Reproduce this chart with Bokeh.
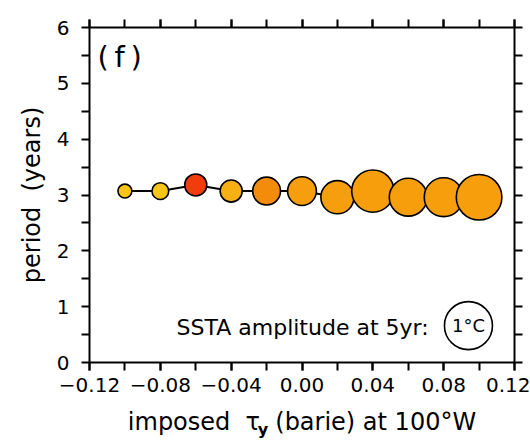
from bokeh.plotting import figure
from bokeh.models import (Range1d, LinearAxis, FixedTicker, CustomJSTickFormatter,
                          Label, ColumnDataSource)
from bokeh.embed import file_html
from bokeh.resources import INLINE

# ---------------- data ----------------
tau_y = [-0.10, -0.08, -0.06, -0.04, -0.02, 0.00, 0.02, 0.04, 0.06, 0.08, 0.10]
period = [3.07, 3.07, 3.18, 3.07, 3.07, 3.07, 2.96, 3.07, 2.96, 2.96, 2.96]
amplitude = [0.29, 0.35, 0.46, 0.46, 0.58, 0.60, 0.69, 0.88, 0.79, 0.81, 0.95]
colors = ["#F6C516", "#F6C516", "#F23C0C", "#F6B013", "#F38C0B", "#F69E0E",
          "#F69E0E", "#F69E0B", "#F69E0B", "#F69E0B", "#F69E0B"]
x_major = [-0.12, -0.08, -0.04, 0.00, 0.04, 0.08, 0.12]
x_minor = [-0.12, -0.10, -0.08, -0.06, -0.04, -0.02, 0.00, 0.02, 0.04, 0.06, 0.08, 0.10, 0.12]
y_major = [0, 1, 2, 3, 4, 5, 6]
y_minor = [0.5, 1.5, 2.5, 3.5, 4.5, 5.5]
legend_amp = 1.0
legend_label = "1°C"
legend_text = "SSTA amplitude at 5yr:"
panel_label = "(\u2009f\u2009)"
y_title = "period\u00a0\u00a0(years)"
NB = "\u00a0"
x_title = "imposed" + NB * 2 + "τ" + NB * 2 + "(barie) at 100°W"
x_title_sub = "y" + NB * 14

# ---------------- style ----------------
PX_PER_DEG = 48.0
FONT = "DejaVu Sans"

sizes = [a * PX_PER_DEG for a in amplitude]
src = ColumnDataSource(dict(x=tau_y, y=period, size=sizes, color=colors))

p = figure(width=530, height=446, output_backend="svg", toolbar_location=None,
           x_range=Range1d(-0.12, 0.12), y_range=Range1d(0, 6),
           min_border_left=89, min_border_right=16, min_border_top=27,
           min_border_bottom=84, outline_line_color=None,
           x_axis_location=None, y_axis_location=None)
p.grid.visible = False
p.background_fill_color = "white"
p.border_fill_color = "white"

fmt_x = CustomJSTickFormatter(code="return (tick < -1e-9 ? '\u2212' : '') + Math.abs(tick).toFixed(2);")
fmt_y = CustomJSTickFormatter(code="return Math.round(tick).toString();")
blank = CustomJSTickFormatter(code="return '';")


def style_axis(ax):
    ax.axis_line_width = 2
    ax.axis_line_color = "black"
    ax.major_tick_line_width = 2
    ax.minor_tick_line_width = 2
    ax.major_tick_out = 8
    ax.major_tick_in = 0
    ax.minor_tick_out = 8
    ax.minor_tick_in = 0
    ax.major_label_text_font = FONT
    ax.major_label_text_font_size = "20px"
    ax.major_label_text_color = "black"


xb = LinearAxis(ticker=FixedTicker(ticks=x_major, minor_ticks=x_minor), formatter=fmt_x,
                axis_label=x_title)
style_axis(xb)
xb.major_label_standoff = 7
xb.axis_label_text_font = FONT
xb.axis_label_text_font_size = "24px"
xb.axis_label_text_font_style = "normal"
xb.axis_label_text_color = "black"
xb.axis_label_standoff = 13
p.add_layout(xb, "below")

# subscript of tau, as a second (invisible) bottom axis label
xs = LinearAxis(ticker=FixedTicker(ticks=[]), formatter=blank, axis_label=x_title_sub)
xs.axis_line_color = None
xs.major_tick_line_color = None
xs.minor_tick_line_color = None
xs.major_tick_out = 0
xs.minor_tick_out = 0
xs.major_label_text_font_size = "0px"
xs.major_label_standoff = 0
xs.axis_label_text_font = FONT
xs.axis_label_text_font_size = "16px"
xs.axis_label_text_font_style = "bold"
xs.axis_label_text_color = "black"
xs.axis_label_standoff = -19
p.add_layout(xs, "below")

xt = LinearAxis(ticker=FixedTicker(ticks=x_major, minor_ticks=x_minor), formatter=blank)
style_axis(xt)
xt.major_label_text_font_size = "0px"
xt.major_label_standoff = 0
p.add_layout(xt, "above")

yl = LinearAxis(ticker=FixedTicker(ticks=y_major, minor_ticks=y_minor), formatter=fmt_y,
                axis_label=y_title)
style_axis(yl)
yl.major_label_standoff = 12
yl.axis_label_text_font = FONT
yl.axis_label_text_font_size = "24px"
yl.axis_label_text_font_style = "normal"
yl.axis_label_text_color = "black"
yl.axis_label_standoff = 8
p.add_layout(yl, "left")

yr = LinearAxis(ticker=FixedTicker(ticks=y_major, minor_ticks=y_minor), formatter=blank)
style_axis(yr)
yr.major_label_text_font_size = "0px"
yr.major_label_standoff = 0
p.add_layout(yr, "right")

# connecting line and bubbles
p.line("x", "y", source=src, line_color="black", line_width=2)
p.scatter("x", "y", source=src, size="size", fill_color="color",
          line_color="black", line_width=1.6, marker="circle")

# legend key
leg_x, leg_y = 0.094, 0.66
p.scatter([leg_x], [leg_y], size=legend_amp * PX_PER_DEG, fill_color="white",
          line_color="black", line_width=1.6, marker="circle")
p.add_layout(Label(x=leg_x, y=leg_y, text=legend_label, text_align="center",
                   text_baseline="middle", text_font=FONT, text_font_size="18px",
                   text_color="black"))
p.add_layout(Label(x=0.0715, y=0.62, text=legend_text, text_align="right",
                   text_baseline="alphabetic", text_font=FONT, text_font_size="22px",
                   text_color="black"))

# panel label
p.add_layout(Label(x=-0.1155, y=5.47, text=panel_label, text_align="left",
                   text_baseline="middle", text_font=FONT, text_font_size="29px",
                   text_color="black"))

open("out.html", "w").write(file_html(p, INLINE))
